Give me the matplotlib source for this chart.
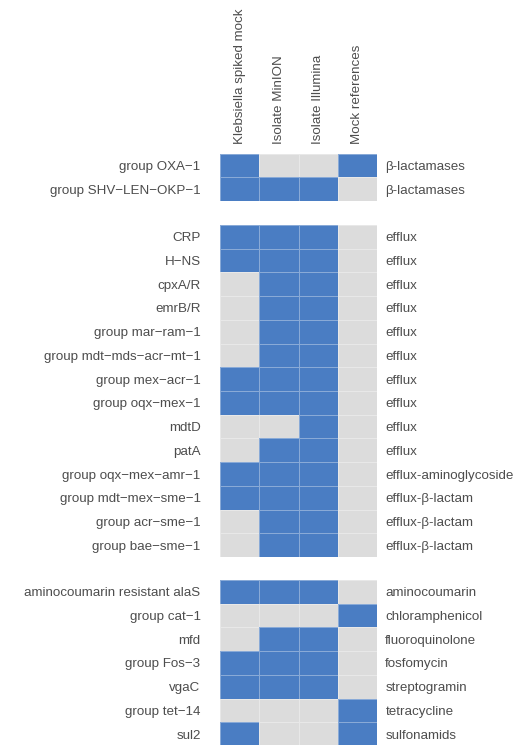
import matplotlib
matplotlib.use("Agg")
import matplotlib.pyplot as plt
from matplotlib.colors import ListedColormap
import numpy as np

plt.rcParams['font.family'] = ['Liberation Sans', 'DejaVu Sans']

columns = ["Klebsiella spiked mock", "Isolate MinION", "Isolate Illumina", "Mock references"]

genes_1 = ["group OXA\u22121", "group SHV\u2212LEN\u2212OKP\u22121"]
class_1 = ["\u03b2-lactamases", "\u03b2-lactamases"]
pres_1 = [[1, 0, 0, 1],
          [1, 1, 1, 0]]

genes_2 = ["CRP", "H\u2212NS", "cpxA/R", "emrB/R", "group mar\u2212ram\u22121",
           "group mdt\u2212mds\u2212acr\u2212mt\u22121", "group mex\u2212acr\u22121",
           "group oqx\u2212mex\u22121", "mdtD", "patA", "group oqx\u2212mex\u2212amr\u22121",
           "group mdt\u2212mex\u2212sme\u22121", "group acr\u2212sme\u22121", "group bae\u2212sme\u22121"]
class_2 = ["efflux"] * 10 + ["efflux-aminoglycoside", "efflux-\u03b2-lactam",
                             "efflux-\u03b2-lactam", "efflux-\u03b2-lactam"]
pres_2 = [[1, 1, 1, 0],
          [1, 1, 1, 0],
          [0, 1, 1, 0],
          [0, 1, 1, 0],
          [0, 1, 1, 0],
          [0, 1, 1, 0],
          [1, 1, 1, 0],
          [1, 1, 1, 0],
          [0, 0, 1, 0],
          [0, 1, 1, 0],
          [1, 1, 1, 0],
          [1, 1, 1, 0],
          [0, 1, 1, 0],
          [0, 1, 1, 0]]

genes_3 = ["aminocoumarin resistant alaS", "group cat\u22121", "mfd", "group Fos\u22123",
           "vgaC", "group tet\u221214", "sul2"]
class_3 = ["aminocoumarin", "chloramphenicol", "fluoroquinolone", "fosfomycin",
           "streptogramin", "tetracycline", "sulfonamids"]
pres_3 = [[1, 1, 1, 0],
          [0, 0, 0, 1],
          [0, 1, 1, 0],
          [1, 1, 1, 0],
          [1, 1, 1, 0],
          [0, 0, 0, 1],
          [1, 0, 0, 1]]

W, H = 531, 745
fig = plt.figure(figsize=(W / 100, H / 100), dpi=100)
cmap = ListedColormap(["#DCDCDC", "#4A7DC3"])
txt_color = "#4D4D4D"
fs = 9.6

left_px, right_px = 220, 377
panels = [(genes_1, class_1, pres_1, 153.6, 201.0),
          (genes_2, class_2, pres_2, 225.0, 557.0),
          (genes_3, class_3, pres_3, 580.0, 746.0)]

for i, (genes, classes, pres, top, bot) in enumerate(panels):
    ax = fig.add_axes([left_px / W, 1 - bot / H, (right_px - left_px) / W, (bot - top) / H])
    data = np.array(pres)
    n = len(genes)
    ax.pcolormesh(np.arange(5), np.arange(n + 1), data, cmap=cmap, vmin=0, vmax=1,
                  edgecolor=(1, 1, 1, 0.35), linewidth=0.6)
    ax.set_xlim(0, 4)
    ax.set_ylim(n, 0)
    ax.set_yticks(np.arange(n) + 0.5)
    ax.set_yticklabels(genes, fontsize=fs, color=txt_color)
    ax.tick_params(axis='y', length=0, pad=14)
    for s in ax.spines.values():
        s.set_visible(False)
    ax2 = ax.twinx()
    ax2.set_ylim(n, 0)
    ax2.set_yticks(np.arange(n) + 0.5)
    ax2.set_yticklabels(classes, fontsize=fs, color=txt_color)
    ax2.tick_params(axis='y', length=0, pad=6)
    for s in ax2.spines.values():
        s.set_visible(False)
    if i == 0:
        ax.xaxis.tick_top()
        ax.set_xticks(np.arange(4) + 0.5)
        ax.set_xticklabels(columns, rotation=90, fontsize=fs, color=txt_color)
        ax.tick_params(axis='x', length=0, pad=7)
    else:
        ax.set_xticks([])

fig.savefig("out.png", dpi=100)
